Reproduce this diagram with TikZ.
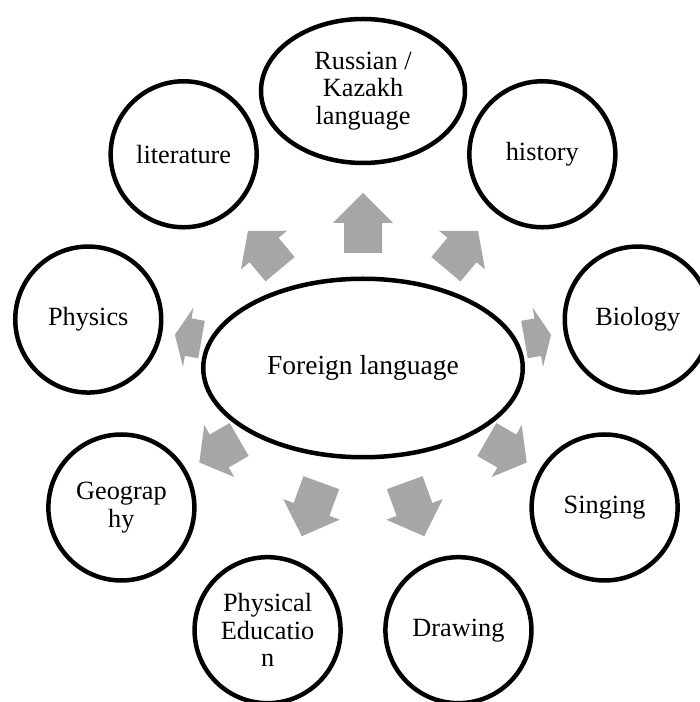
\documentclass[tikz,border=0pt]{standalone}
\usepackage{fontspec}
\setmainfont{Liberation Serif}
\usetikzlibrary{calc,shapes.geometric}
\definecolor{arrowgray}{HTML}{A6A6A6}
\begin{document}
\begin{tikzpicture}[x=1pt,y=1pt,
  subj/.style={draw=black, line width=4.5pt, circle, minimum size=146pt, inner sep=0pt,
    align=center, font=\fontsize{26.3}{27.5}\selectfont},
  oval/.style={draw=black, line width=4.5pt, ellipse, inner sep=0pt,
    align=center, font=\fontsize{26.3}{27.5}\selectfont},
  blockarrow/.style={fill=arrowgray, draw=none}]
\useasboundingbox (0,0) rectangle (700,702);
\node[oval, minimum width=319.5pt, minimum height=178.5pt, font=\fontsize{27.5}{29}\selectfont] (fl) at (363,334) {Foreign language};
\node[oval, minimum width=204pt, minimum height=144pt] (ru) at ($(fl.center)+(90:277)$) {Russian /\\Kazakh\\language};
\node[subj] (lit) at ($(fl.center)+(130:279)$) {literature};
\node[subj] (hist) at ($(fl.center)+(50:279)$) {history};
\node[subj] (phys) at ($(fl.center)+(170:279)$) {Physics};
\node[subj] (bio) at ($(fl.center)+(10:279)$) {Biology};
\node[subj] (geo) at ($(fl.center)+(210:279)$) {Geograp\\hy};
\node[subj] (sing) at ($(fl.center)+(330:279)$) {Singing};
\node[subj] (pe) at ($(fl.center)+(250:279)$) {Physical\\Educatio\\n};
\node[subj] (drw) at ($(fl.center)+(290:279)$) {Drawing};
\foreach \a/\s/\e in {90/115/175, 130/129/179, 50/129/179, 170/164/191, 10/164/191,
                      210/143/189, 330/143/189, 250/122/179, 290/122/179}{
  \pgfmathsetmacro{\m}{(\s+\e)/2}
  \fill[blockarrow, shift={(fl.center)}, rotate=\a]
    (\s,-19) -- (\m,-19) -- (\m,-30) -- (\e,0) -- (\m,30) -- (\m,19) -- (\s,19) -- cycle;
}
\end{tikzpicture}
\end{document}
